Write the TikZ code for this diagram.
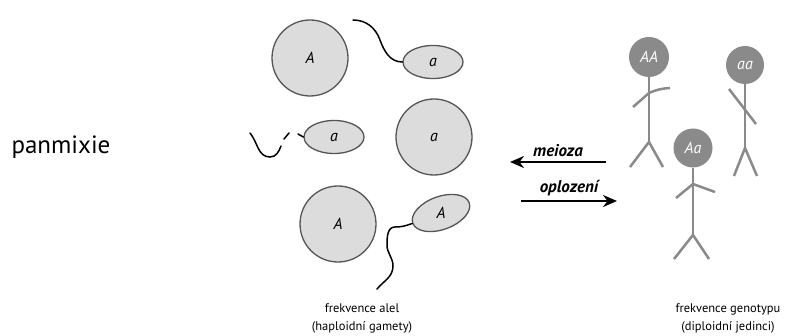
\documentclass[tikz,border=0pt]{standalone}
\usepackage{fontspec}
\setmainfont{PT Sans}
\usetikzlibrary{arrows.meta,shapes.geometric}

\definecolor{gamfill}{HTML}{DCDCDC}
\definecolor{gamline}{HTML}{555555}
\definecolor{figgray}{HTML}{8A8A8A}

\tikzset{
  gamete/.style={ellipse, draw=gamline, fill=gamfill, line width=1.3pt, inner sep=0pt,
    font=\fontsize{16}{16}\selectfont\itshape},
  egg/.style={gamete, minimum width=76pt, minimum height=76pt},
  sperm/.style={gamete, minimum width=60pt, minimum height=33pt},
  tail/.style={line width=1.5pt, line cap=round},
  head/.style={circle, fill=figgray, inner sep=0pt, text=white,
    font=\fontsize{16}{16}\selectfont\itshape},
  limb/.style={draw=figgray, line width=2.5pt},
  arr/.style={line width=2.5pt, -{Stealth[length=14pt,width=12pt]}},
  arrlbl/.style={above=1pt, font=\fontsize{17}{17}\selectfont\bfseries\itshape},
  lbl/.style={font=\fontsize{12.5}{18}\selectfont, align=center},
}

\begin{document}
\begin{tikzpicture}[x=1pt,y=-1pt]
      \useasboundingbox (0,0) rectangle (789,336);

      \node[anchor=west, font=\fontsize{25}{25}\selectfont] (title) at (8,147) {panmixie};

      % gamety
      \node[egg] (eggA) at (310,58) {A};
      \node[sperm] (spa) at (433,62) {a};
      \node[sperm] (spb) at (334,137) {a};
      \node[egg] (egga) at (434,137) {a};
      \node[egg] (eggB) at (338,224) {A};
      \node[sperm, rotate=20] (spA) at (441,213) {};
      \node[font=\fontsize{16}{16}\selectfont\itshape] (spAtxt) at (spA) {A};

      \draw[tail] (353,20) to[out=0,in=110] (380,40) to[out=-70,in=180] (spa.west);
      \draw[tail] (250,133) to[out=-50,in=180] (270,157) to[out=0,in=-110] (281,146);
      \draw[tail] (284,139) -- (289,133);
      \draw[tail] (298,134) -- (spb.west);
      \draw[tail] (spA.west) to[out=200,in=0] (395,227) to[out=180,in=90] (387,245)
        to[out=-90,in=90] (393,266) to[out=-90,in=50] (377,289);

      \node[lbl] (gamlbl) at (362,318) {frekvence alel\\(haploidní gamety)};

      % sipky
      \coordinate (mR) at (606,162);
      \coordinate (mL) at (510,162);
      \coordinate (oL) at (521,201);
      \coordinate (oR) at (617,201);
      \draw[arr] (mR) -- node[arrlbl] {meioza} (mL);
      \draw[arr] (oL) -- node[arrlbl] {oplození} (oR);

      % jedinci
      \node[head, minimum size=40pt] (hAA) at (649,57) {AA};
      \draw[limb] (hAA.south) -- (649,142) coordinate (pAA);
      \draw[limb] (649,93) -- (633,107);
      \draw[limb] (649,93) to[bend left=10] (670,88);
      \draw[limb] (630,167) -- (pAA) -- (663,167);

      \node[head, minimum size=38pt] (haa) at (745,65) {aa};
      \draw[limb] (haa.south) -- (745,148) coordinate (paa);
      \draw[limb] (729,89) -- (756,124);
      \draw[limb] (734,176) -- (paa) -- (757,176);

      \node[head, minimum size=39pt] (hAa) at (693,148) {Aa};
      \draw[limb] (hAa.south) -- (693,235) coordinate (pAa);
      \draw[limb] (676,198) -- (693,184) -- (715,192);
      \draw[limb] (674,259) -- (pAa) -- (709,259);

      \node[lbl] (genlbl) at (728,318) {frekvence genotypu\\(diploidní jedinci)};
\end{tikzpicture}
\end{document}
